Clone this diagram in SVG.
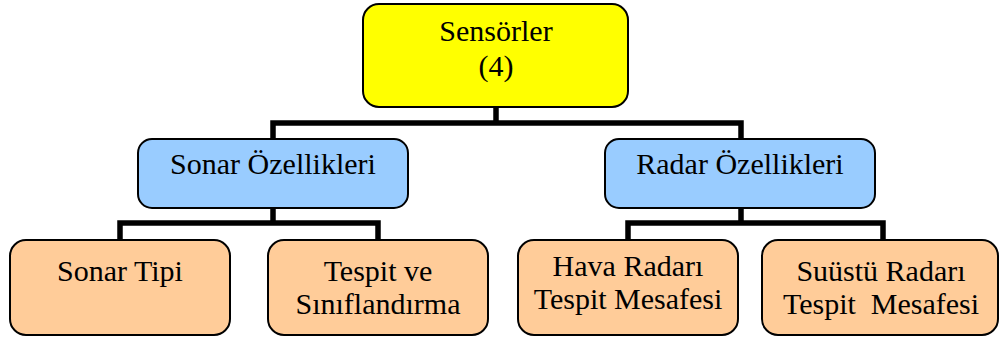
<svg xmlns="http://www.w3.org/2000/svg" width="1000" height="339" viewBox="0 0 1000 339">
<style>
.box{stroke:#000;stroke-width:2}
.y{fill:#FFFF00}.b{fill:#99CCFF}.o{fill:#FFCC99}
text{font-family:"Liberation Serif","Times New Roman",serif;font-size:30px;fill:#000;text-anchor:middle;white-space:pre}
.c{fill:none;stroke:#000;stroke-width:5.5;stroke-linejoin:miter}
</style>
<rect width="1000" height="339" fill="#fff"/>
<g id="connectors">
<path class="c" d="M496 107V123M273 139V123H741V139"/>
<path class="c" d="M273 208V223M120 240V223H378V240"/>
<path class="c" d="M741 208V223M628 240V223H883V240"/>
</g>
<g id="n-sensorler"><rect class="box y" x="363" y="4" width="265" height="103" rx="16"/><text x="496" y="41">Sensörler</text><text x="496" y="76">(4)</text></g>
<g id="n-sonar"><rect class="box b" x="138" y="139" width="270" height="69" rx="14"/><text x="273" y="174">Sonar Özellikleri</text></g>
<g id="n-radar"><rect class="box b" x="605" y="139" width="270" height="69" rx="14"/><text x="740" y="174">Radar Özellikleri</text></g>
<g id="n-sonartipi"><rect class="box o" x="10" y="240" width="220" height="95" rx="16"/><text x="120" y="281">Sonar Tipi</text></g>
<g id="n-tespit"><rect class="box o" x="268" y="240" width="220" height="95" rx="16"/><text x="378" y="281">Tespit ve</text><text x="378" y="314">Sınıflandırma</text></g>
<g id="n-hava"><rect class="box o" x="518" y="240" width="220" height="95" rx="16"/><text x="628" y="276">Hava Radarı</text><text x="628" y="309">Tespit Mesafesi</text></g>
<g id="n-suustu"><rect class="box o" x="762" y="240" width="236" height="95" rx="16"/><text x="881" y="281">Suüstü Radarı</text><text x="881" y="314">Tespit  Mesafesi</text></g>
</svg>
